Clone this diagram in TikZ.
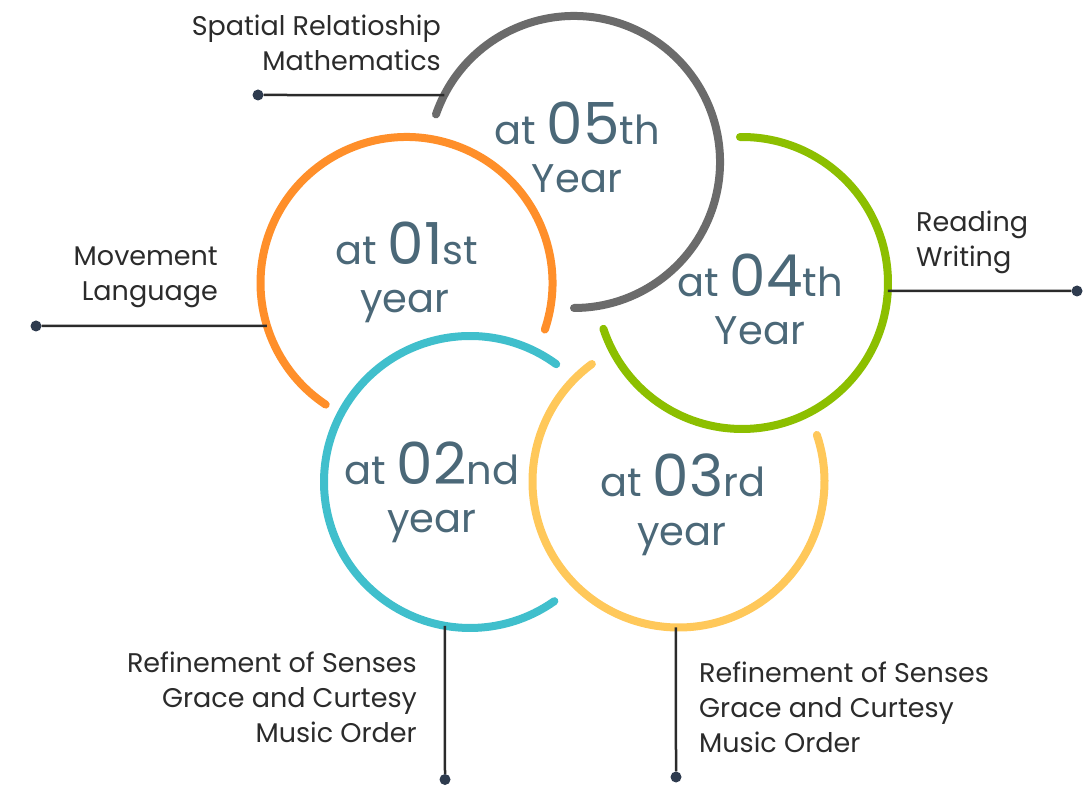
\documentclass[tikz,border=0pt]{standalone}
\usepackage{fontspec}
\setmainfont{Poppins}
\definecolor{cgray}{HTML}{6B6B6B}
\definecolor{corange}{HTML}{FF8F2A}
\definecolor{cgreen}{HTML}{8CBF00}
\definecolor{cteal}{HTML}{40BFCC}
\definecolor{cyellow}{HTML}{FFC85A}
\definecolor{ctitle}{HTML}{4B6878}
\definecolor{clabel}{HTML}{2B2B2B}
\definecolor{cdot}{HTML}{2E3B4E}
\tikzset{
  ring/.style={line width=8pt, line cap=round},
  conn/.style={line width=2.5pt, draw=clabel},
  dotnode/.style={circle, fill=cdot, inner sep=0pt, minimum size=11pt},
  big/.style={text=ctitle, anchor=base, inner sep=0pt, font=\fontsize{40}{40}\selectfont},
  lbl/.style={text=clabel, inner sep=0pt, font=\fontsize{27}{35}\selectfont},
}
\newcommand{\numb}[1]{{\fontsize{58}{58}\selectfont #1}}
\begin{document}
\begin{tikzpicture}[x=1pt,y=1pt]
\useasboundingbox (0,0) rectangle (1084,785);
% centers
\coordinate (c5) at (574,623);
\coordinate (c1) at (406.5,502);
\coordinate (c4) at (742,502);
\coordinate (c2) at (470,303);
\coordinate (c3) at (678.5,303.5);
% arcs
\draw[ring, cgray] ([shift={(161:146)}]c5) arc[start angle=161, end angle=-90, radius=146];
\draw[ring, corange] ([shift={(-18.6:146)}]c1) arc[start angle=-18.6, end angle=236.4, radius=146];
\draw[ring, cgreen] ([shift={(90.8:146)}]c4) arc[start angle=90.8, end angle=-161.7, radius=146];
\draw[ring, cteal] ([shift={(53.8:146)}]c2) arc[start angle=53.8, end angle=305.3, radius=146];
\draw[ring, cyellow] ([shift={(126.4:146)}]c3) arc[start angle=126.4, end angle=378.6, radius=146];
% connector points on rings
\coordinate (p5) at ([shift={(152.7:146)}]c5);
\coordinate (p1) at ([shift={(197.1:146)}]c1);
\coordinate (p4) at ([shift={(-3.1:146)}]c4);
\coordinate (p2) at ([shift={(260.1:146)}]c2);
\coordinate (p3) at ([shift={(269.0:146)}]c3);
% dots
\node[dotnode] (d5) at (258,690) {};
\node[dotnode] (d1) at (36,459) {};
\node[dotnode] (d4) at (1077,494) {};
\node[dotnode] (d2) at (445,5.5) {};
\node[dotnode] (d3) at (676,8) {};
\draw[conn] (d5) -- (p5);
\draw[conn] (d1) -- (p1);
\draw[conn] (d4) -- (p4);
\draw[conn] (d2) -- (p2);
\draw[conn] (d3) -- (p3);
% big titles
\node[big] (t5a) at (577,640) {at \numb{05}th};
\node[big] (t5b) at (577,592) {Year};
\node[big] (t1a) at (407,520) {at \numb{01}st};
\node[big] (t1b) at (405,472) {year};
\node[big] (t4a) at (760,488) {at \numb{04}th};
\node[big] (t4b) at (760,440) {Year};
\node[big] (t2a) at (432,300) {at \numb{02}nd};
\node[big] (t2b) at (432,252) {year};
\node[big] (t3a) at (683,288) {at \numb{03}rd};
\node[big] (t3b) at (682,240) {year};
% labels (base anchor = baseline of last line)
\node[lbl, align=right, anchor=base east] (l5) at (441,714) {Spatial Relatioship\\Mathematics};
\node[lbl, align=right, anchor=base east] (l1) at (218,484) {Movement\\Language};
\node[lbl, align=left, anchor=base west] (l4) at (916,518) {Reading\\Writing};
\node[lbl, align=right, anchor=base east] (l2) at (417,43) {Refinement of Senses\\Grace and Curtesy\\Music Order};
\node[lbl, align=left, anchor=base west] (l3) at (699,33) {Refinement of Senses\\Grace and Curtesy\\Music Order};
\end{tikzpicture}
\end{document}
